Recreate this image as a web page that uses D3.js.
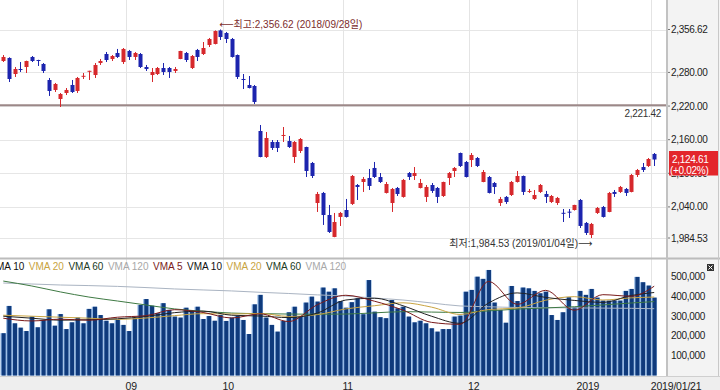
<!DOCTYPE html>
<html lang="ko">
<head>
<meta charset="utf-8">
<title>KOSPI 일봉</title>
<script src="https://cdn.jsdelivr.net/npm/d3@7"></script>
<style>
  * { margin: 0; padding: 0; }
  body { background: #fff; }
  svg text { font-family: "Liberation Sans", "Noto Sans CJK KR", sans-serif; }
</style>
</head>
<body>
<div id="chart"></div>
<script>
// 거래일 (2018/08/01 ~ 2019/01/21)
var dates = [
  "2018-08-01","2018-08-02","2018-08-03","2018-08-06","2018-08-07","2018-08-08","2018-08-09","2018-08-10","2018-08-13","2018-08-14",
  "2018-08-16","2018-08-17","2018-08-20","2018-08-21","2018-08-22","2018-08-23","2018-08-24","2018-08-27","2018-08-28","2018-08-29",
  "2018-08-30","2018-08-31","2018-09-03","2018-09-04","2018-09-05","2018-09-06","2018-09-07","2018-09-10","2018-09-11","2018-09-12",
  "2018-09-13","2018-09-14","2018-09-17","2018-09-18","2018-09-19","2018-09-20","2018-09-21","2018-09-27","2018-09-28","2018-10-01",
  "2018-10-02","2018-10-04","2018-10-05","2018-10-08","2018-10-10","2018-10-11","2018-10-12","2018-10-15","2018-10-16","2018-10-17",
  "2018-10-18","2018-10-19","2018-10-22","2018-10-23","2018-10-24","2018-10-25","2018-10-26","2018-10-29","2018-10-30","2018-10-31",
  "2018-11-01","2018-11-02","2018-11-05","2018-11-06","2018-11-07","2018-11-08","2018-11-09","2018-11-12","2018-11-13","2018-11-14",
  "2018-11-15","2018-11-16","2018-11-19","2018-11-20","2018-11-21","2018-11-22","2018-11-23","2018-11-26","2018-11-27","2018-11-28",
  "2018-11-29","2018-11-30","2018-12-03","2018-12-04","2018-12-05","2018-12-06","2018-12-07","2018-12-10","2018-12-11","2018-12-12",
  "2018-12-13","2018-12-14","2018-12-17","2018-12-18","2018-12-19","2018-12-20","2018-12-21","2018-12-24","2018-12-26","2018-12-27",
  "2018-12-28","2019-01-02","2019-01-03","2019-01-04","2019-01-07","2019-01-08","2019-01-09","2019-01-10","2019-01-11","2019-01-14",
  "2019-01-15","2019-01-16","2019-01-17","2019-01-18","2019-01-21"
];

var open = [2300.4, 2305.8, 2277.2, 2286.1, 2289.7, 2307.6, 2302.2, 2295.1, 2266.5, 2248.7,
  2232.6, 2243.3, 2257.6, 2246.9, 2273.2, 2282.6, 2275.4, 2296.8, 2312.9, 2304.0,
  2314.7, 2298.6, 2318.3, 2307.6, 2312.9, 2289.7, 2275.4, 2277.2, 2287.9, 2287.9,
  2282.6, 2304.0, 2314.7, 2287.9, 2320.1, 2312.9, 2329.0, 2330.8, 2355.0, 2350.4,
  2339.7, 2311.1, 2268.3, 2257.6, 2255.8, 2175.5, 2129.1, 2155.9, 2155.9, 2168.0,
  2157.6, 2129.1, 2139.8, 2146.9, 2118.4, 2047.0, 2064.9, 2025.6, 1986.4, 2022.1,
  2034.5, 2045.3, 2079.1, 2084.5, 2091.6, 2109.5, 2093.4, 2064.9, 2047.0, 2073.8,
  2057.8, 2100.5, 2095.2, 2073.8, 2057.8, 2079.1, 2073.8, 2059.5, 2091.6, 2104.1,
  2136.2, 2120.2, 2123.7, 2127.3, 2084.5, 2093.4, 2082.7, 2047.0, 2057.8, 2061.3,
  2084.5, 2095.2, 2068.0, 2054.2, 2066.7, 2063.1, 2048.8, 2047.0, 2029.5, 2031.5,
  2034.5, 2052.4, 2011.4, 1989.9, 2029.2, 2039.9, 2031.0, 2066.7, 2066.7, 2072.0,
  2066.7, 2097.0, 2111.2, 2113.0, 2134.5];

var high = [2311.1, 2307.0, 2289.7, 2298.6, 2301.0, 2309.3, 2302.6, 2296.8, 2270.1, 2261.2,
  2243.3, 2252.2, 2266.5, 2271.9, 2279.0, 2283.0, 2296.8, 2304.0, 2316.5, 2311.1,
  2321.9, 2323.6, 2320.1, 2316.5, 2314.7, 2293.3, 2287.9, 2289.7, 2296.8, 2289.7,
  2289.7, 2318.6, 2316.5, 2311.1, 2321.9, 2334.3, 2341.5, 2355.0, 2356.62, 2352.2,
  2341.5, 2312.0, 2277.2, 2273.6, 2257.6, 2186.2, 2173.7, 2159.4, 2159.4, 2182.6,
  2166.6, 2157.6, 2163.0, 2147.5, 2120.2, 2066.7, 2066.7, 2043.5, 2029.2, 2031.0,
  2054.2, 2097.0, 2080.9, 2093.4, 2107.7, 2120.2, 2100.5, 2084.5, 2073.8, 2075.6,
  2089.9, 2102.3, 2111.2, 2089.9, 2079.1, 2082.7, 2075.6, 2085.0, 2102.3, 2111.2,
  2137.0, 2122.0, 2136.2, 2129.1, 2105.9, 2095.2, 2084.5, 2057.8, 2059.5, 2086.3,
  2104.1, 2096.0, 2072.0, 2070.2, 2080.9, 2068.5, 2061.3, 2057.8, 2036.3, 2036.3,
  2043.8, 2054.2, 2013.1, 2011.4, 2039.9, 2041.7, 2066.7, 2070.2, 2077.4, 2073.8,
  2098.8, 2107.7, 2118.4, 2127.3, 2136.2];

var low = [2298.6, 2262.9, 2271.9, 2280.8, 2279.0, 2298.6, 2291.5, 2279.0, 2238.0, 2245.1,
  2218.3, 2239.7, 2243.3, 2243.3, 2268.3, 2266.5, 2270.1, 2293.3, 2298.6, 2300.4,
  2305.8, 2295.1, 2302.2, 2302.2, 2287.9, 2282.6, 2262.9, 2275.4, 2275.4, 2270.1,
  2279.0, 2303.6, 2298.6, 2286.1, 2300.4, 2311.1, 2325.4, 2330.0, 2337.9, 2332.5,
  2306.5, 2268.3, 2250.4, 2251.5, 2223.7, 2128.5, 2127.3, 2141.6, 2138.0, 2155.9,
  2145.2, 2118.4, 2136.2, 2093.4, 2091.6, 2031.0, 2007.8, 1993.5, 1985.9, 2006.0,
  2021.0, 2043.5, 2052.4, 2066.7, 2070.2, 2091.6, 2082.7, 2064.0, 2031.0, 2059.5,
  2056.5, 2088.1, 2088.1, 2073.0, 2048.8, 2064.9, 2047.0, 2057.8, 2079.1, 2093.4,
  2111.2, 2092.5, 2111.2, 2111.2, 2084.0, 2064.0, 2063.1, 2041.7, 2045.3, 2059.5,
  2083.5, 2061.3, 2064.9, 2052.4, 2064.9, 2047.0, 2047.0, 2043.5, 2013.1, 2020.3,
  2033.5, 2002.4, 1989.9, 1984.53, 2027.4, 2021.0, 2030.5, 2057.8, 2064.9, 2059.5,
  2066.0, 2093.4, 2102.3, 2111.2, 2113.0];

var close = [2307.6, 2268.3, 2286.1, 2284.4, 2300.4, 2300.4, 2302.0, 2282.6, 2246.9, 2259.4,
  2241.5, 2248.7, 2245.1, 2270.1, 2274.0, 2282.9, 2293.3, 2300.4, 2302.2, 2309.3,
  2307.6, 2321.9, 2307.6, 2314.7, 2289.7, 2286.1, 2280.8, 2287.9, 2280.8, 2280.8,
  2286.1, 2318.3, 2302.2, 2309.3, 2307.6, 2323.6, 2339.7, 2353.9, 2343.2, 2339.7,
  2307.6, 2271.9, 2267.5, 2252.2, 2227.2, 2129.1, 2163.0, 2145.2, 2145.2, 2168.4,
  2146.9, 2155.9, 2161.2, 2104.1, 2095.2, 2063.1, 2025.6, 1995.3, 2013.1, 2029.2,
  2022.1, 2095.2, 2075.6, 2089.9, 2077.4, 2093.4, 2084.5, 2080.9, 2072.0, 2063.1,
  2088.1, 2093.4, 2100.5, 2082.7, 2075.6, 2068.5, 2057.8, 2084.5, 2100.5, 2109.5,
  2113.0, 2093.4, 2132.7, 2113.0, 2102.3, 2064.9, 2075.6, 2054.2, 2048.8, 2084.5,
  2095.2, 2066.7, 2068.5, 2061.3, 2079.1, 2057.8, 2059.5, 2056.0, 2029.2, 2031.0,
  2043.5, 2006.0, 1993.5, 2009.6, 2038.1, 2022.1, 2064.9, 2063.1, 2075.6, 2064.9,
  2097.0, 2105.9, 2105.9, 2125.5, 2124.61];

var volume = [214000, 352000, 264000, 242000, 225000, 298000, 244000, 281000, 335000, 252000,
  311000, 235000, 269000, 293000, 264000, 337000, 348000, 306000, 277000, 264000,
  281000, 256000, 225000, 290000, 357000, 387000, 353000, 315000, 366000, 332000,
  298000, 293000, 343000, 327000, 348000, 286000, 301000, 277000, 306000, 276000,
  293000, 301000, 281000, 210000, 360000, 408000, 293000, 256000, 222000, 276000,
  320000, 348000, 298000, 369000, 399000, 374000, 445000, 424000, 441000, 377000,
  343000, 371000, 391000, 310000, 483000, 323000, 295000, 290000, 382000, 340000,
  348000, 298000, 269000, 277000, 264000, 239000, 222000, 235000, 235000, 298000,
  303000, 424000, 433000, 500000, 489000, 534000, 369000, 332000, 267000, 453000,
  377000, 445000, 441000, 428000, 416000, 424000, 306000, 281000, 320000, 396000,
  345000, 428000, 408000, 438000, 394000, 379000, 379000, 379000, 379000, 428000,
  438000, 499000, 472000, 455000, 394000];

// 거래량 이동평균 (읽은 지점)
var vmaIdx = [0, 5, 10, 15, 20, 25, 30, 35, 40, 45, 50, 55, 60, 65, 70, 75, 80, 85, 90, 95, 100, 105, 110, 114];
var vma5 = [290000, 276000, 285000, 280000, 295000, 303000, 333000, 319000, 291000, 312000, 273000, 358000,
  406000, 376000, 331000, 269000, 259000, 476000, 360000, 431000, 330000, 409000, 401000, 452000];
var vma10 = [300000, 290000, 280000, 282000, 287000, 299000, 318000, 326000, 305000, 301000, 293000, 316000,
  382000, 391000, 353000, 300000, 264000, 367000, 418000, 395000, 380000, 370000, 405000, 420000];
var vma20 = [305000, 300000, 295000, 290000, 284000, 291000, 303000, 313000, 311000, 314000, 299000, 308000,
  337000, 353000, 368000, 346000, 309000, 334000, 341000, 381000, 399000, 382000, 393000, 397000];
var vma60 = [478000, 453000, 423000, 397000, 377000, 357000, 337000, 325000, 316000, 313000, 311000, 310000,
  311000, 317000, 323000, 321000, 319000, 327000, 336000, 342000, 348000, 357000, 367000, 374000];
var vma120 = [468000, 463000, 458000, 455000, 451000, 445000, 438000, 433000, 428000, 421000, 415000, 408000,
  402000, 392000, 382000, 367000, 352000, 348000, 344000, 343000, 342000, 341000, 340000, 338000];

var priceTicks = [2356.62, 2280, 2220, 2160, 2100, 2040, 1984.53];
var volumeTicks = [100000, 200000, 300000, 400000, 500000];
var monthTicks = ["2018-09-03", "2018-10-01", "2018-11-01", "2018-12-03", "2019-01-02", "2019-01-21"];
var monthLabels = ["09", "10", "11", "12", "2019", "2019/01/21"];
var refPrice = 2221.42;
var lastChange = "(+0.02%)";
var legendNames = ["VMA 5", "VMA 10", "VMA 20", "VMA 60", "VMA 120"];
var legendColors = ["#7a1a1a", "#111111", "#c9a441", "#203a24", "#a8a8a8"];

// 차트 기본 설정
var svgWidth = 720, svgHeight = 390;
var plotRight = 666;
var priceBottom = 258, volTop = 259, volBottom = 376;

var svg = d3.select("#chart").append("svg")
    .attr("width", svgWidth)
    .attr("height", svgHeight);

var x = d3.scaleBand()
    .domain(dates)
    .range([0.4, 0.4 + dates.length * 5.71])
    .padding(0);
var step = x.step();
function cx(d) { return x(d) + step / 2; }

var yP = d3.scaleLinear().domain([1984.53, 2356.62]).range([238, 29.5]);
var yV = d3.scaleLinear().domain([0, 500000]).range([375.5, 276.7]);

// 배경
svg.append("rect").attr("width", svgWidth).attr("height", svgHeight).attr("fill", "#fff");
svg.append("rect").attr("x", plotRight + 1).attr("y", 0)
    .attr("width", svgWidth - plotRight - 1).attr("height", volBottom).attr("fill", "#f3f3f3");
svg.append("rect").attr("x", 0).attr("y", volBottom)
    .attr("width", svgWidth).attr("height", svgHeight - volBottom).attr("fill", "#eeeeee");

var defs = svg.append("defs");
defs.append("clipPath").attr("id", "clip-price")
  .append("rect").attr("x", 0).attr("y", 0).attr("width", plotRight).attr("height", priceBottom);
defs.append("clipPath").attr("id", "clip-vol")
  .append("rect").attr("x", 0).attr("y", volTop).attr("width", plotRight).attr("height", volBottom - volTop);

// 그리드
var grid = svg.append("g");
grid.selectAll("line.h").data(priceTicks).enter().append("line")
    .attr("x1", 0).attr("x2", plotRight)
    .attr("y1", function(d) { return Math.round(yP(d)) + 0.5; })
    .attr("y2", function(d) { return Math.round(yP(d)) + 0.5; })
    .attr("stroke", "#e6e6e6");
grid.selectAll("line.v").data(monthTicks).enter().append("line")
    .attr("x1", function(d) { return Math.round(x(d)) + 0.5; })
    .attr("x2", function(d) { return Math.round(x(d)) + 0.5; })
    .attr("y1", 0).attr("y2", volBottom)
    .attr("stroke", "#e4e4e4");

// 기준선
var price = svg.append("g").attr("clip-path", "url(#clip-price)");
price.append("line")
    .attr("x1", 0).attr("x2", plotRight)
    .attr("y1", yP(refPrice)).attr("y2", yP(refPrice))
    .attr("stroke", "#9c8888").attr("stroke-width", 2);

// 캔들
var candles = price.selectAll("g.c").data(dates).enter().append("g");
function col(i) { return close[i] >= open[i] ? "#d6282c" : "#1c24ae"; }
candles.append("line")
    .attr("x1", function(d) { return Math.round(cx(d)) + 0.5; })
    .attr("x2", function(d) { return Math.round(cx(d)) + 0.5; })
    .attr("y1", function(d, i) { return yP(high[i]); })
    .attr("y2", function(d, i) { return yP(low[i]); })
    .attr("stroke", function(d, i) { return col(i); });
candles.append("rect")
    .attr("x", function(d) { return Math.round(cx(d)) - 1.5; })
    .attr("width", 4)
    .attr("y", function(d, i) { return yP(Math.max(open[i], close[i])); })
    .attr("height", function(d, i) { return Math.max(1, Math.abs(yP(open[i]) - yP(close[i]))); })
    .attr("fill", function(d, i) { return col(i); });

// 가격 축 라벨
var pAxis = svg.append("g");
pAxis.selectAll("line").data(priceTicks).enter().append("line")
    .attr("x1", plotRight + 1).attr("x2", plotRight + 4)
    .attr("y1", function(d) { return yP(d); }).attr("y2", function(d) { return yP(d); })
    .attr("stroke", "#777");
pAxis.selectAll("text").data(priceTicks).enter().append("text")
    .attr("x", 671).attr("y", function(d) { return yP(d); })
    .attr("dy", "0.35em")
    .attr("font-size", "10px").attr("letter-spacing", "-0.3px")
    .attr("fill", "#222")
    .text(d3.format(",.2f"));

// 주석 (최고 / 최저)
var hiI = high.indexOf(d3.max(high));
var loI = low.indexOf(d3.min(low));
var hiText = svg.append("text")
    .attr("x", cx(dates[hiI]) - 1).attr("y", yP(high[hiI]) - 5)
    .attr("dy", "0.35em").attr("font-size", "10px").attr("fill", "#7c2c2c");
hiText.append("tspan").style("font-family", "DejaVu Sans").text("\u27F5");
hiText.append("tspan").text("최고:" + d3.format(",.2f")(high[hiI]) + " (2018/09/28일)");

var loText = svg.append("text")
    .attr("x", cx(dates[loI]) + 1).attr("y", yP(low[loI]) + 5)
    .attr("dy", "0.35em").attr("font-size", "10px").attr("fill", "#333")
    .attr("text-anchor", "end");
loText.append("tspan").text("최저:" + d3.format(",.2f")(low[loI]) + " (2019/01/04일)");
loText.append("tspan").style("font-family", "DejaVu Sans").text("\u27F6");

svg.append("text")
    .attr("x", plotRight - 5).attr("y", yP(refPrice) + 8)
    .attr("dy", "0.35em").attr("font-size", "10px").attr("letter-spacing", "-0.3px")
    .attr("fill", "#333").attr("text-anchor", "end")
    .text(d3.format(",.2f")(refPrice));

// 현재가 박스
var last = close.length - 1;
var boxY = yP(close[last]);
svg.append("rect")
    .attr("x", plotRight + 3).attr("y", boxY - 8.5)
    .attr("width", 49).attr("height", 24.5)
    .attr("fill", "#e3262b");
svg.append("text")
    .attr("x", 672).attr("y", boxY).attr("dy", "0.35em")
    .attr("font-size", "10px").attr("letter-spacing", "-0.3px").attr("fill", "#fff")
    .text(d3.format(",.2f")(close[last]));
svg.append("text")
    .attr("x", 670).attr("y", boxY + 11).attr("dy", "0.35em")
    .attr("font-size", "10px").attr("letter-spacing", "-0.3px").attr("fill", "#fff")
    .text(lastChange);

// 거래량
var vol = svg.append("g").attr("clip-path", "url(#clip-vol)");
vol.selectAll("rect.edge").data(dates).enter().append("rect")
    .attr("x", function(d) { return x(d); })
    .attr("width", step)
    .attr("y", function(d, i) { return yV(volume[i]); })
    .attr("height", function(d, i) { return yV(0) - yV(volume[i]); })
    .attr("fill", "#94b8e4");
vol.selectAll("rect.bar").data(dates).enter().append("rect")
    .attr("x", function(d) { return x(d) + 1.2; })
    .attr("width", step - 1.7)
    .attr("y", function(d, i) { return yV(volume[i]); })
    .attr("height", function(d, i) { return yV(0) - yV(volume[i]); })
    .attr("fill", "#0f3a7c");

var vmaLine = d3.line()
    .x(function(v, k) { return cx(dates[vmaIdx[k]]); })
    .y(function(v) { return yV(v); })
    .curve(d3.curveMonotoneX);
var vmaSeries = [vma120, vma60, vma20, vma10, vma5];
var vmaColors = ["#aab4c2", "#3f7a44", "#c9a441", "#222222", "#7a1a1a"];
vol.selectAll("path.vma").data(vmaSeries).enter().append("path")
    .attr("d", vmaLine)
    .attr("fill", "none")
    .attr("stroke", function(d, k) { return vmaColors[k]; })
    .attr("stroke-width", 1);

// 거래량 축
var vAxis = svg.append("g");
vAxis.selectAll("text").data(volumeTicks).enter().append("text")
    .attr("x", 671).attr("y", function(d) { return yV(d); })
    .attr("dy", "0.35em")
    .attr("font-size", "10px").attr("letter-spacing", "-0.3px")
    .attr("fill", "#222")
    .text(d3.format(","));

// 범례 (왼쪽이 잘린 두 줄 반복)
var legend = svg.append("g");
var items = legendNames.concat(legendNames);
var lx = 0;
var texts = [];
items.forEach(function(name, k) {
  var t = legend.append("text")
      .attr("y", 266).attr("dy", "0.35em")
      .attr("font-size", "10px")
      .attr("fill", legendColors[k % 5])
      .text(name);
  texts.push({ t: t, x: lx });
  lx += t.node().getComputedTextLength() + 4.5;
});
var shift = 153 - texts[5].x;
texts.forEach(function(o) { o.t.attr("x", o.x + shift); });

// 닫기 아이콘
svg.append("rect").attr("x", 707).attr("y", 264).attr("width", 7).attr("height", 7).attr("fill", "#333");
svg.append("path").attr("d", "M708.5,265.5 L712.5,269.5 M712.5,265.5 L708.5,269.5")
    .attr("stroke", "#fff").attr("stroke-width", 1);

// 구분선
svg.append("line").attr("x1", 0).attr("x2", svgWidth)
    .attr("y1", priceBottom + 0.5).attr("y2", priceBottom + 0.5)
    .attr("stroke", "#bcbcbc").attr("stroke-width", 2);
svg.append("line").attr("x1", plotRight + 1).attr("x2", plotRight + 1)
    .attr("y1", 0).attr("y2", volBottom)
    .attr("stroke", "#c2c2c2").attr("stroke-width", 2);
svg.append("line").attr("x1", svgWidth - 1.5).attr("x2", svgWidth - 1.5)
    .attr("y1", 0).attr("y2", volBottom)
    .attr("stroke", "#c8c8c8").attr("stroke-width", 1);
svg.append("line").attr("x1", 0).attr("x2", svgWidth)
    .attr("y1", volBottom + 0.5).attr("y2", volBottom + 0.5)
    .attr("stroke", "#cfcfcf");

// 날짜 축
svg.append("g").selectAll("text").data(monthTicks).enter().append("text")
    .attr("x", function(d) { return x(d) - 0.5; })
    .attr("y", 389.5)
    .attr("font-size", "10.5px").attr("letter-spacing", "-0.2px")
    .attr("fill", "#222")
    .text(function(d, i) { return monthLabels[i]; });
</script>
</body>
</html>
